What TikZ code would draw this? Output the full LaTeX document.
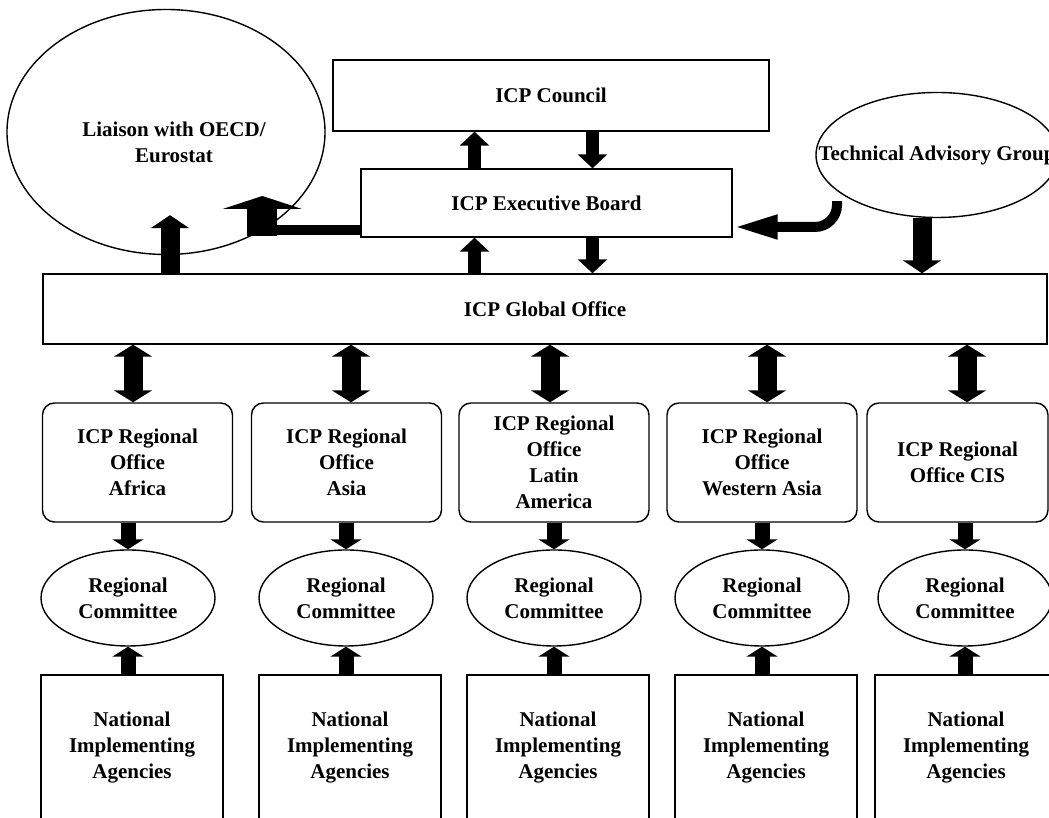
\documentclass[tikz,border=0pt]{standalone}
\usepackage{fontspec}
\setmainfont{Liberation Serif}
\usetikzlibrary{arrows.meta,shapes.geometric}

\begin{document}
\begin{tikzpicture}[
  x=1pt, y=1pt,
  font=\fontsize{21pt}{26pt}\selectfont\bfseries,
  box/.style={draw, line width=1.4pt, align=center},
  office/.style={box, rounded corners=12pt, minimum width=190pt, minimum height=119pt},
  agency/.style={box, minimum width=182pt, minimum height=146pt},
  oval/.style={box, ellipse, inner sep=1pt},
  committee/.style={oval, minimum width=174pt, minimum height=96pt},
  link/.style={line width=13pt, -{Triangle[width=29pt,length=14pt]}},
  bigarrow/.style={line width=19pt, -{Triangle[width=38pt,length=13pt]}},
  twoway/.style={line width=19pt, {Triangle[width=38pt,length=12pt]}-{Triangle[width=38pt,length=12pt]}},
  feed/.style={line width=15pt, -{Triangle[width=31pt,length=10pt]}}
]
\path[use as bounding box, fill=white] (0,0) rectangle (1049,818);
\node[oval, minimum width=318pt, minimum height=245pt] (liaison) at (166,686) {};
\node[align=center] (liaisontext) at (174,676) {Liaison with OECD/\\Eurostat};
\node[box, minimum width=436pt, minimum height=71pt] (council) at (551,722.5) {ICP Council};
\node[box, minimum width=371pt, minimum height=68pt] (exec) at (546.5,615) {ICP Executive Board};
\node[oval, minimum width=242pt, minimum height=125pt] (tag) at (937,663) {\makebox[0pt]{Technical Advisory Group}};
\node[box, minimum width=1004pt, minimum height=70pt] (global) at (545,509) {ICP Global Office};
\node[office] (africa) at (137.5,355.5) {ICP Regional\\Office\\Africa};
\node[office] (asia) at (346.5,355.5) {ICP Regional\\Office\\Asia};
\node[office] (latam) at (554,355.5) {ICP Regional\\Office\\Latin\\America};
\node[office] (wasia) at (762,355.5) {ICP Regional\\Office\\Western Asia};
\node[office, minimum width=181pt] (cis) at (957.5,355.5) {ICP Regional\\Office CIS};
\node[committee] (africacom) at (128,220) {Regional\\Committee};
\node[committee] (asiacom) at (346,220) {Regional\\Committee};
\node[committee] (latamcom) at (554,220) {Regional\\Committee};
\node[committee] (wasiacom) at (762,220) {Regional\\Committee};
\node[committee] (ciscom) at (965,220) {Regional\\Committee};
\node[agency] (africanat) at (132,70) {National\\Implementing\\Agencies};
\node[agency] (asianat) at (350,70) {National\\Implementing\\Agencies};
\node[agency] (latamnat) at (558,70) {National\\Implementing\\Agencies};
\node[agency] (wasianat) at (766,70) {National\\Implementing\\Agencies};
\node[agency] (cisnat) at (966,70) {National\\Implementing\\Agencies};
\draw[link] ([xshift=-72pt]exec.north) -- ([xshift=-72pt]exec.north |- council.south);
\draw[link] ([xshift=46pt]exec.north |- council.south) -- ([xshift=46pt]exec.north);
\draw[link] ([xshift=-72pt]exec.south |- global.north) -- ([xshift=-72pt]exec.south);
\draw[link] ([xshift=46pt]exec.south) -- ([xshift=46pt]exec.south |- global.north);
\draw[bigarrow] ([xshift=4pt]liaison.south |- global.north) -- ([xshift=4pt,yshift=40pt]liaison.south);
\draw[bigarrow] ([xshift=-15pt]tag.south) -- ([xshift=-15pt]tag.south |- global.north);
\draw[line width=10pt] ([yshift=-27pt]exec.west) -- ++(-98,0) coordinate (elbow);
\draw[line width=30pt, -{Triangle[width=79pt,length=13pt]}] ([yshift=-6pt]elbow) -- ++(0,40);
\draw[line width=10pt, rounded corners=22pt, -{Triangle[width=22pt,length=45pt]}] ([xshift=-100pt,yshift=17pt]tag.south) |- ([yshift=-24pt]exec.east);
\draw[twoway] ([xshift=-4.5pt]africa.north |- global.south) -- ([xshift=-4.5pt]africa.north);
\draw[twoway] ([xshift=4.5pt]asia.north |- global.south) -- ([xshift=4.5pt]asia.north);
\draw[twoway] ([xshift=-4pt]latam.north |- global.south) -- ([xshift=-4pt]latam.north);
\draw[twoway] ([xshift=5pt]wasia.north |- global.south) -- ([xshift=5pt]wasia.north);
\draw[twoway] ([xshift=9.5pt]cis.north |- global.south) -- ([xshift=9.5pt]cis.north);
\draw[feed] (africa.south -| africacom.north) -- (africacom.north);
\draw[feed] (asia.south -| asiacom.north) -- (asiacom.north);
\draw[feed] (latam.south -| latamcom.north) -- (latamcom.north);
\draw[feed] (wasia.south -| wasiacom.north) -- (wasiacom.north);
\draw[feed] (cis.south -| ciscom.north) -- (ciscom.north);
\draw[feed] (africanat.north -| africacom.south) -- (africacom.south);
\draw[feed] (asianat.north -| asiacom.south) -- (asiacom.south);
\draw[feed] (latamnat.north -| latamcom.south) -- (latamcom.south);
\draw[feed] (wasianat.north -| wasiacom.south) -- (wasiacom.south);
\draw[feed] (cisnat.north -| ciscom.south) -- (ciscom.south);
\end{tikzpicture}
\end{document}
